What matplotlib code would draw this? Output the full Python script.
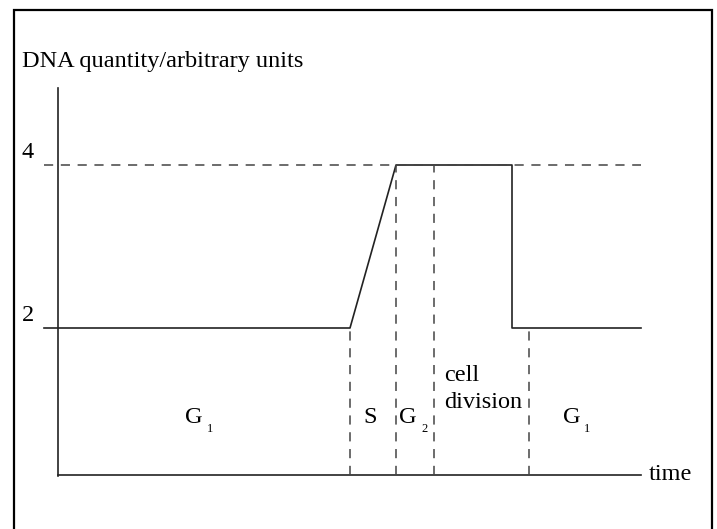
import matplotlib.pyplot as plt
from matplotlib.patches import Rectangle

plt.rcParams['font.family'] = ['Liberation Serif', 'DejaVu Serif']

# Datos: tiempo (unidades arbitrarias) y cantidad de ADN
tiempo = [-1.4, 29.2, 33.8, 45.4, 45.4, 58.3]
adn = [2, 2, 4, 4, 2, 2]
limites_fase = [29.2, 33.8, 37.6, 47.1]
limites_y_sup = [2, 4, 4, 2]
# fases con subindice: (letra, subindice, borde derecho de la letra)
fases_g = [('G', '1', 14.5), ('G', '2', 35.9), ('G', '1', 52.2)]
fase_s_x = 31.2
division_x = 38.6
eje_base = 0.2
eje_top = 4.94
t_fin = 58.3
t_ini = -1.4

fig = plt.figure(figsize=(7.17, 5.29), dpi=100)
ax = fig.add_axes([0, 0, 1, 1])
ax.set_xlim(-5.8, 65.9)
ax.set_ylim(2 - 201 / 81.5, 2 + 328 / 81.5)
ax.axis('off')

# marco
fig.patches.append(Rectangle((14 / 717, -0.05), 698 / 717, 1 - 10 / 529 + 0.05,
                             transform=fig.transFigure, fill=False,
                             edgecolor='black', lw=1.6))

col = '#222222'
col_dash = '#444444'
dash = (0, (6, 5))
# ejes
ax.plot([0, 0], [eje_base - 0.01, eje_top], color=col, lw=1.2)
ax.plot([0, t_fin], [eje_base, eje_base], color=col, lw=1.2)

# curva
ax.plot(tiempo, adn, color=col, lw=1.2)
ax.plot([t_ini, t_fin], [4, 4], color=col_dash, lw=1.1, ls=dash)

for xv, ys in zip(limites_fase, limites_y_sup):
    ax.plot([xv, xv], [eje_base, ys], color=col_dash, lw=1.1, ls=dash)

# textos
fs = 17.5
ax.text(-3.6, 5.2, 'DNA quantity/arbitrary units', fontsize=fs, va='baseline', ha='left')
ax.text(-3.6, 4.03, '4', fontsize=fs, va='bottom', ha='left')
ax.text(-3.6, 2.03, '2', fontsize=fs, va='bottom', ha='left')
ax.text(59.1, eje_base, 'time', fontsize=fs, va='center', ha='left')

y_fase = 0.9
for letra, sub, xr in fases_g:
    ax.text(xr, y_fase, letra, fontsize=fs, va='center', ha='right')
    ax.annotate(sub, (xr, y_fase), xytext=(3, -8), textcoords='offset points',
                fontsize=9, va='center', ha='left')
ax.text(fase_s_x, y_fase, 'S', fontsize=fs, va='center', ha='center')
ax.text(division_x, 1.25, 'cell\ndivision', fontsize=fs, va='center', ha='left',
        linespacing=1.4)

fig.savefig('out.png', dpi=100)
